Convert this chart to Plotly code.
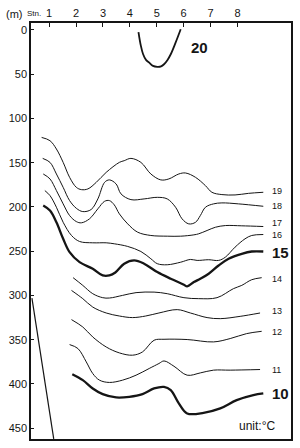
import plotly.graph_objects as go

# Station tick labels (top axis) and depth ticks (left axis)
stations = [1, 2, 3, 4, 5, 6, 7, 8]
depth_ticks = [0, 50, 100, 150, 200, 250, 300, 350, 400, 450]

# Isotherms: station position (x) and depth in m (y)
stn_20 = [4.32, 4.41, 4.49, 4.60, 4.72, 4.86, 5.02, 5.16, 5.27, 5.40, 5.52, 5.70, 5.89]
dep_20 = [2.3, 18.0, 27.1, 33.8, 36.9, 40.6, 41.7, 41.2, 38.7, 33.8, 27.4, 14.3, -0.8]

stn_19 = [0.72, 1.03, 1.27, 1.52, 1.76, 2.01, 2.20, 2.44, 2.75, 3.12, 3.61, 3.79, 4.04, 4.41,
          4.78, 5.15, 5.45, 5.82, 6.07, 6.44, 6.81, 7.05, 7.42, 7.91, 8.41, 8.96]
dep_19 = [121.4, 125.1, 134.5, 149.6, 166.5, 177.8, 180.4, 179.6, 172.2, 160.9, 149.6, 147.7,
          145.1, 149.6, 162.7, 169.4, 168.3, 162.7, 161.6, 166.5, 175.9, 183.4, 186.0, 186.4,
          184.6, 183.4]

stn_18 = [0.76, 1.03, 1.27, 1.52, 1.76, 2.01, 2.25, 2.56, 2.81, 3.06, 3.24, 3.49, 3.67, 4.04,
          4.53, 5.02, 5.39, 5.70, 5.94, 6.19, 6.44, 6.62, 6.81, 7.11, 7.42, 8.04, 8.96]
dep_18 = [145.1, 149.6, 162.7, 177.8, 192.8, 201.5, 205.2, 202.9, 190.9, 172.2, 169.4, 174.0,
          185.2, 191.7, 190.9, 189.1, 190.9, 200.3, 213.4, 219.1, 217.3, 209.7, 200.3, 196.5,
          195.4, 196.5, 199.2]

stn_17 = [0.78, 1.03, 1.27, 1.52, 1.76, 2.01, 2.20, 2.50, 2.81, 3.06, 3.24, 3.42, 3.61, 3.92,
          4.29, 4.78, 5.39, 5.89, 6.38, 6.56, 6.87, 7.18, 7.55, 8.16, 8.96]
dep_17 = [162.7, 168.3, 181.5, 196.5, 209.7, 216.5, 217.9, 213.4, 202.1, 193.6, 192.8, 197.6,
          207.8, 219.1, 228.5, 232.2, 233.0, 233.0, 231.5, 230.3, 226.6, 222.9, 221.0, 221.3,
          222.1]

stn_16 = [0.84, 1.03, 1.27, 1.52, 1.83, 2.13, 2.62, 3.12, 3.42, 3.92, 4.41, 4.78, 5.02, 5.39,
          5.89, 6.25, 6.50, 6.93, 7.30, 7.55, 7.91, 8.28, 8.53, 8.96]
dep_16 = [181.5, 187.1, 200.3, 217.3, 232.2, 239.0, 240.5, 240.5, 241.6, 244.6, 250.3, 258.5,
          264.1, 265.3, 262.4, 259.3, 260.4, 259.6, 260.4, 256.7, 245.4, 236.0, 232.2, 231.1]

stn_15 = [0.78, 1.03, 1.27, 1.52, 1.76, 2.13, 2.62, 2.99, 3.24, 3.46, 3.79, 4.16, 4.53, 5.02,
          5.52, 6.01, 6.13, 6.38, 6.62, 6.93, 7.30, 7.67, 8.16, 8.53, 8.96]
dep_15 = [198.4, 204.1, 217.3, 236.0, 251.1, 262.4, 269.8, 277.3, 277.3, 274.0, 264.1, 260.4,
          264.1, 273.6, 281.1, 287.8, 289.7, 284.9, 281.1, 275.4, 266.1, 258.5, 252.9, 250.3,
          250.3]

stn_14 = [1.89, 2.25, 2.62, 2.99, 3.24, 3.73, 4.23, 4.90, 5.39, 6.01, 6.56, 7.24, 7.85, 8.16,
          8.53, 8.90]
dep_14 = [279.9, 288.6, 298.0, 302.5, 302.9, 299.9, 296.8, 296.2, 298.0, 302.5, 303.6, 302.5,
          292.3, 288.6, 282.2, 279.9]

stn_13 = [1.83, 2.25, 2.62, 3.12, 3.61, 4.10, 4.59, 5.08, 5.76, 6.25, 6.87, 7.36, 8.10, 8.84]
dep_13 = [294.3, 303.6, 313.1, 319.8, 323.2, 325.0, 323.2, 319.8, 316.0, 319.8, 325.0, 326.2,
          323.6, 319.8]

stn_12 = [1.83, 2.25, 2.62, 3.12, 3.61, 4.10, 4.47, 4.90, 5.27, 6.13, 7.11, 7.73, 8.34, 8.90]
dep_12 = [327.3, 335.6, 346.9, 358.2, 364.9, 367.5, 363.8, 350.6, 349.5, 349.8, 352.5, 348.7,
          343.1, 340.5]

stn_11 = [1.76, 2.07, 2.38, 2.62, 2.87, 3.24, 3.73, 4.23, 4.72, 5.08, 5.27, 5.64, 6.13, 6.62,
          7.11, 7.73, 8.84]
dep_11 = [355.5, 360.0, 375.1, 388.2, 395.7, 398.3, 395.7, 390.1, 382.5, 376.9, 374.0, 380.0,
          390.1, 387.5, 384.4, 384.4, 383.7]

stn_10 = [1.86, 2.25, 2.62, 2.99, 3.49, 3.98, 4.47, 4.90, 5.27, 5.52, 5.82, 6.13, 6.74, 7.36,
          7.97, 8.59, 8.96]
dep_10 = [389.0, 395.7, 405.1, 411.5, 415.2, 414.5, 411.5, 405.1, 403.3, 407.0, 422.0, 433.3,
          432.6, 427.6, 418.3, 412.6, 410.7]

# Sea bottom (straight line at the lower left)
bottom_stn = [0.36, 1.17]
bottom_dep = [303.0, 462.0]

# Isotherm labels: text, station, depth
label_text = ["20", "19", "18", "17", "16", "15", "14", "13", "12", "11", "10"]
label_stn = [6.19, 9.22, 9.22, 9.22, 9.22, 9.21, 9.22, 9.22, 9.22, 9.22, 9.21]
label_dep = [20.0, 181.5, 199.2, 217.9, 231.1, 251.1, 281.1, 317.6, 341.3, 383.7, 410.7]
label_bold = [True, False, False, False, False, True, False, False, False, False, True]

contours = [
    (stn_20, dep_20, 1.8), (stn_19, dep_19, 1.0), (stn_18, dep_18, 1.0),
    (stn_17, dep_17, 1.0), (stn_16, dep_16, 1.0), (stn_15, dep_15, 2.3),
    (stn_14, dep_14, 1.0), (stn_13, dep_13, 1.0), (stn_12, dep_12, 1.0),
    (stn_11, dep_11, 1.0), (stn_10, dep_10, 2.3),
]

FONT = "Liberation Sans, Arial, sans-serif"
INK = "#151515"

fig = go.Figure()
for xs, ys, w in contours:
    fig.add_trace(go.Scatter(x=xs, y=ys, mode="lines",
                             line=dict(color=INK, width=w, shape="spline", smoothing=1.0),
                             hoverinfo="skip", showlegend=False))
fig.add_trace(go.Scatter(x=bottom_stn, y=bottom_dep, mode="lines",
                         line=dict(color=INK, width=1.2), hoverinfo="skip",
                         showlegend=False, cliponaxis=True))

for t, sx, dy, b in zip(label_text, label_stn, label_dep, label_bold):
    fig.add_annotation(x=sx, y=dy, text=f"<b>{t}</b>" if b else t, showarrow=False,
                       xanchor="left", yanchor="middle",
                       font=dict(family=FONT, size=15 if b else 9, color=INK))

fig.add_annotation(x=8.71, y=448, text="unit:°C", showarrow=False,
                   xanchor="center", yanchor="middle",
                   font=dict(family=FONT, size=12, color=INK))
fig.add_annotation(x=-0.065, y=1.022, xref="paper", yref="paper", text="(m)",
                   showarrow=False, xanchor="center", yanchor="middle",
                   font=dict(family=FONT, size=11, color=INK))
fig.add_annotation(x=0.012, y=1.022, xref="paper", yref="paper", text="Stn.",
                   showarrow=False, xanchor="center", yanchor="middle",
                   font=dict(family=FONT, size=8, color=INK))

fig.update_layout(
    width=300, height=448,
    margin=dict(l=31, r=7, t=22, b=9),
    paper_bgcolor="white", plot_bgcolor="white",
    font=dict(family=FONT, color=INK),
    xaxis=dict(side="top", range=[0.325, 9.99], tickvals=stations,
               ticktext=[str(s) for s in stations],
               ticks="inside", ticklen=4, tickwidth=1, tickcolor=INK,
               showline=True, linecolor=INK, linewidth=1.5, mirror=True,
               showgrid=False, zeroline=False, tickfont=dict(size=11, color=INK)),
    yaxis=dict(range=[462.2, -7.9], tickvals=depth_ticks,
               ticks="inside", ticklen=3, tickwidth=1, tickcolor=INK,
               showline=True, linecolor=INK, linewidth=1.5, mirror=True,
               showgrid=False, zeroline=False, tickfont=dict(size=11, color=INK)),
)

fig.write_html("out.html")
